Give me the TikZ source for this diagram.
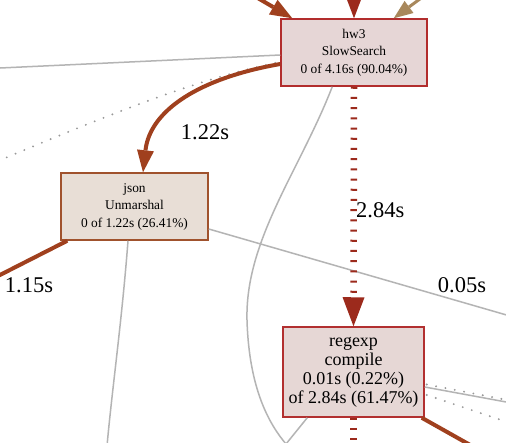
\documentclass[tikz,border=0pt]{standalone}
\usepackage{fontspec}
\setmainfont{Liberation Serif}
\usetikzlibrary{arrows.meta,calc}
\definecolor{hwfill}{HTML}{E6D6D6}
\definecolor{hwborder}{HTML}{B22D2D}
\definecolor{jsfill}{HTML}{E8DED6}
\definecolor{jsborder}{HTML}{A0522D}
\definecolor{rxfill}{HTML}{E6D7D5}
\definecolor{rxborder}{HTML}{B23030}
\definecolor{brownline}{HTML}{A0401E}
\definecolor{redline}{HTML}{9C2A1C}
\definecolor{tanline}{HTML}{A8885C}
\definecolor{grayline}{HTML}{B4B4B4}
\definecolor{dotgray}{HTML}{999999}
\begin{document}
\begin{tikzpicture}[x=1pt,y=-1pt,
  fnode/.style={draw, line width=1.5pt, rectangle, align=center, inner sep=0pt, text=black},
  smalltext/.style={font=\fontsize{13.4}{17.5}\selectfont},
  bigtext/.style={font=\fontsize{18}{19}\selectfont},
  elabel/.style={font=\fontsize{22.5}{27}\selectfont, text=black, inner sep=0pt},
  brownedge/.style={draw=brownline, line width=4pt},
  redash/.style={draw=redline, line width=6.5pt, dash pattern=on 2pt off 8.2pt},
  tanedge/.style={draw=tanline, line width=3pt},
  grayedge/.style={draw=grayline, line width=1.5pt},
  dotedge/.style={draw=dotgray, line width=2.1pt, line cap=round, dash pattern=on 0pt off 9.5pt},
  bigtip/.style={-{Triangle[length=29pt,width=22pt,line width=0pt]}},
  midtip/.style={-{Triangle[length=22pt,width=17pt,line width=0pt]}},
  tantip/.style={-{Triangle[length=19pt,width=15pt,line width=0pt]}}
]
\useasboundingbox (0,0) rectangle (506,442);
\fill[white] (0,0) rectangle (506,442);
\clip (0,0) rectangle (506,442);

% nodes
\node[fnode, smalltext, fill=hwfill, draw=hwborder, minimum width=146pt, minimum height=67pt] (hw3) at (354,52.5) {hw3\\SlowSearch\\0 of 4.16s (90.04\%)};
\node[fnode, smalltext, fill=jsfill, draw=jsborder, minimum width=147pt, minimum height=67pt] (json) at (134.5,206.5) {json\\Unmarshal\\0 of 1.22s (26.41\%)};
\node[fnode, bigtext, fill=rxfill, draw=rxborder, minimum width=141pt, minimum height=90pt] (regexp) at (353.5,372) {regexp\\compile\\0.01s (0.22\%)\\of 2.84s (61.47\%)};

% free ends outside the picture
\coordinate (tl) at (256,-3);
\coordinate (tm) at (354,-12);
\coordinate (tr) at (428,-7);
\coordinate (lg) at (-2,68.1);
\coordinate (ld) at (-2,161);
\coordinate (l115) at (-4,277);
\coordinate (bj) at (107,446);
\coordinate (b1) at (286,444);
\coordinate (rj) at (510,316);
\coordinate (r1) at (510,402.7);
\coordinate (r2) at (510,400.5);
\coordinate (r3) at (510,423);
\coordinate (br) at (472,446);
\coordinate (bm) at (353.5,446);

% gray / dotted edges
\draw[grayedge] (lg) -- ($(hw3.west)+(0,2.5)$);
\draw[dotedge] (ld) .. controls (120,110) and (200,78) .. ($(hw3.west)+(0,9.5)$);
\draw[grayedge] ($(hw3.south west)+(52,0)$) .. controls (300,170) and (245,240) .. (247,320) .. controls (249,390) and (270,425) .. (b1);
\draw[grayedge] ($(regexp.south west)+(25,0)$) -- (b1);
\draw[grayedge] ($(json.south)+(-6.5,0)$) .. controls (122,320) and (112,390) .. (bj);
\draw[grayedge] ($(json.east)+(0,22.5)$) -- (rj);
\draw[grayedge] ($(regexp.east)+(0,15)$) -- (r1);
\draw[dotedge] ($(regexp.east)+(2,12.5)$) -- (r2);
\draw[dotedge] ($(regexp.east)+(2,23)$) -- (r3);

% incoming edges to hw3
\draw[brownedge, midtip] (tl) -- ($(hw3.north west)+(12,0)$);
\draw[redash, bigtip] (tm) -- (hw3.north);
\draw[tanedge, tantip] (tr) -- ($(hw3.north east)+(-34,0)$);

% hw3 -> json
\draw[brownedge, midtip] ($(hw3.west)+(0,11.5)$) .. controls (200,78) and (150,110) .. ($(json.north)+(8.5,0)$);
\node[elabel] (l122) at (205,132) {1.22s};

% hw3 -> regexp
\draw[redash, bigtip] (hw3.south) -- (regexp.north);
\node[elabel, anchor=west] (l284) at (356,210) {2.84s};

% json -> left
\draw[brownedge] ($(json.south west)+(7,0)$) -- (l115);
\node[elabel] (l115t) at (29,285) {1.15s};
\node[elabel] (l005) at (462,285) {0.05s};

% regexp -> below
\draw[redash] (regexp.south) -- (bm);
\draw[brownedge] ($(regexp.south east)+(-3,0)$) -- (br);
\end{tikzpicture}
\end{document}
